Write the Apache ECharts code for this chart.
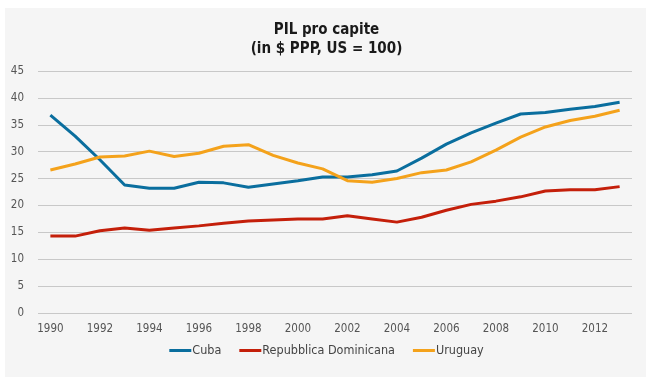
<!DOCTYPE html>
<html>
<head>
<meta charset="utf-8">
<script src="https://cdn.jsdelivr.net/npm/echarts@6/dist/echarts.min.js"></script>
<style>
html,body{margin:0;padding:0;background:#ffffff;}
#wrap{position:absolute;left:5px;top:8px;width:641px;height:369px;background:#f5f5f5;}
#chart{position:absolute;left:0;top:0;width:653px;height:383px;}
</style>
</head>
<body>
<div id="wrap"></div>
<div id="chart"></div>
<script>
const years = ['1990','1991','1992','1993','1994','1995','1996','1997','1998','1999','2000','2001','2002','2003','2004','2005','2006','2007','2008','2009','2010','2011','2012','2013'];
const cuba = [36.8,32.9,28.5,23.8,23.2,23.2,24.3,24.2,23.4,24.0,24.6,25.3,25.3,25.7,26.4,28.8,31.4,33.5,35.3,37.0,37.3,37.9,38.4,39.2];
const repDom = [14.3,14.3,15.3,15.8,15.4,15.8,16.2,16.7,17.1,17.3,17.5,17.5,18.1,17.5,16.9,17.8,19.1,20.2,20.8,21.6,22.7,22.9,22.9,23.5];
const uruguay = [26.6,27.7,29.0,29.2,30.1,29.1,29.7,31.0,31.3,29.3,27.9,26.8,24.6,24.3,25.0,26.1,26.6,28.1,30.3,32.7,34.6,35.8,36.6,37.7];
const yTicks = [0,5,10,15,20,25,30,35,40,45];

const font = '"Liberation Sans Narrow","DejaVu Sans Condensed",sans-serif';
const chart = echarts.init(document.getElementById('chart'), null, {renderer:'canvas'});
function mk(name, data, color){
  return {name, type:'line', data, symbol:'none', smooth:false,
    lineStyle:{width:3, color}, itemStyle:{color}};
}
chart.setOption({
  backgroundColor:'transparent',
  animation:false,
  title:{text:'PIL pro capite\n(in $ PPP, US = 100)', left:'center', top:16,
    textStyle:{fontFamily:font, fontWeight:'bold', fontSize:15, color:'#1a1a1a', lineHeight:19}},
  legend:{bottom:21, left:'center', itemWidth:22, itemHeight:3, itemGap:18, icon:'rect',
    textStyle:{fontFamily:font, fontSize:12.5, color:'#444', padding:[0,0,0,-4]},
    data:['Cuba','Repubblica Dominicana','Uruguay']},
  grid:{left:38, right:21, top:71, bottom:70, containLabel:false},
  xAxis:{type:'category', data:years, boundaryGap:true,
    axisLine:{show:false}, axisTick:{show:false},
    axisLabel:{interval:1, fontFamily:font, fontSize:11.5, color:'#555', margin:10}},
  yAxis:{type:'value', min:0, max:45, interval:5,
    axisLine:{show:false}, axisTick:{show:false},
    splitLine:{lineStyle:{color:'#c8c8c8', width:1}},
    axisLabel:{fontFamily:font, fontSize:11.5, color:'#555', margin:14,
      formatter:v=>yTicks.includes(v)?String(v):''}},
  series:[mk('Cuba',cuba,'#0a6e9e'), mk('Repubblica Dominicana',repDom,'#c41f0a'), mk('Uruguay',uruguay,'#f4a21b')]
});
</script>
</body>
</html>
